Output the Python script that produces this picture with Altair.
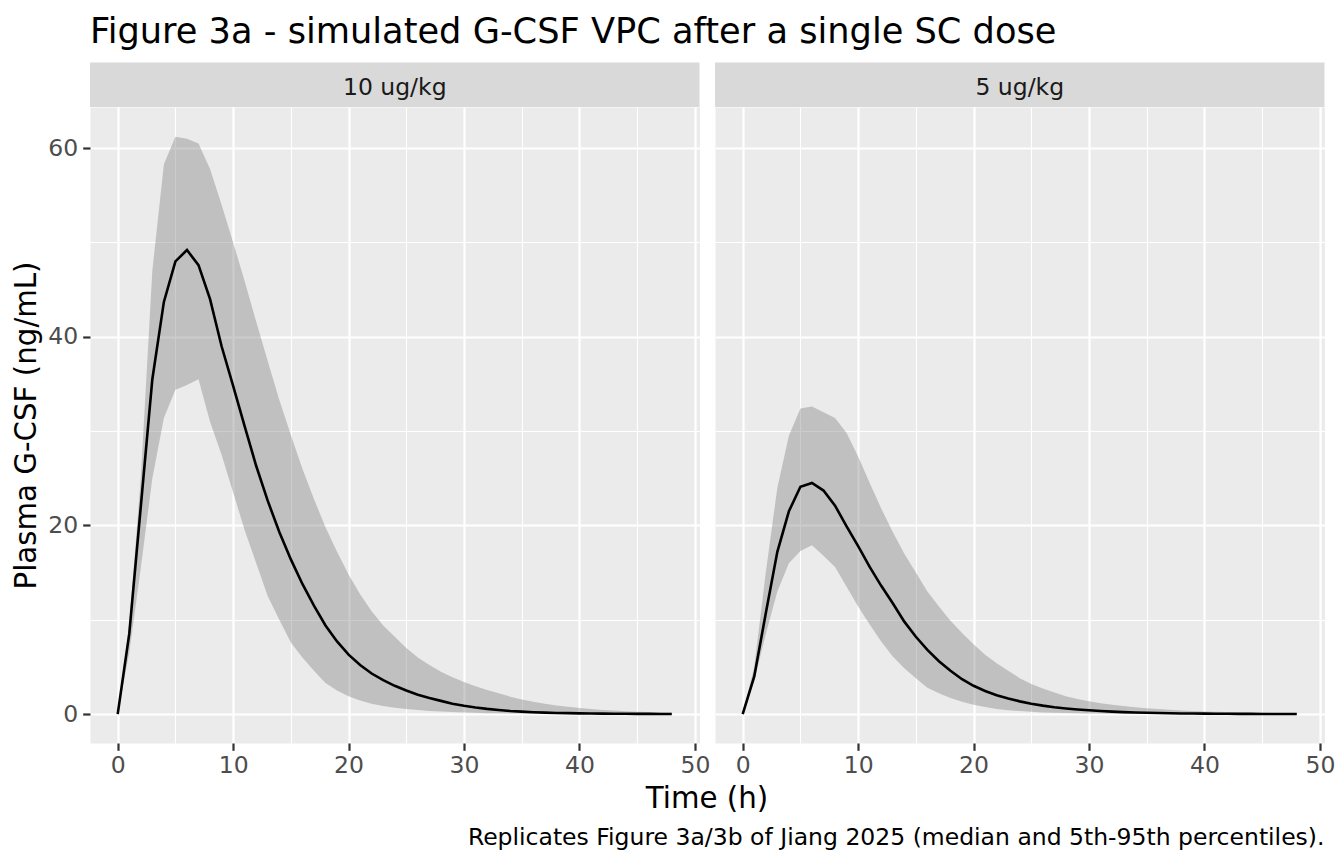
import altair as alt
import pandas as pd

# ---------------- data ----------------
TIME_H = list(range(49))
DOSES = ["10 ug/kg", "5 ug/kg"]

MED_10 = [0, 8.5, 22.0, 35.5, 43.7, 48.0, 49.2, 47.6, 44.0, 39.0,
          34.8, 30.5, 26.3, 22.6, 19.3, 16.4, 13.8, 11.5, 9.4, 7.7,
          6.3, 5.2, 4.3, 3.6, 3.0, 2.5, 2.05, 1.7, 1.4, 1.1,
          0.88, 0.7, 0.55, 0.43, 0.33, 0.26, 0.2, 0.16, 0.12, 0.1,
          0.08, 0.06, 0.05, 0.04, 0.03, 0.025, 0.02, 0.015, 0.012]
P05_10 = [0, 6.5, 15.5, 25.0, 31.4, 34.4, 34.9, 35.5, 31.0, 27.5,
          23.5, 19.5, 16.0, 12.5, 10.0, 7.6, 6.0, 4.6, 3.3, 2.5,
          1.9, 1.45, 1.1, 0.85, 0.68, 0.55, 0.43, 0.34, 0.27, 0.21,
          0.17, 0.13, 0.1, 0.08, 0.06, 0.05, 0.04, 0.03, 0.025, 0.02,
          0.016, 0.013, 0.01, 0.008, 0.007, 0.006, 0.005, 0.004, 0.003]
P95_10 = [0, 9.5, 25.0, 47.0, 58.3, 61.2, 61.0, 60.5, 57.8, 54.0,
          50.0, 45.9, 41.6, 37.4, 33.3, 29.6, 26.0, 22.8, 19.8, 17.2,
          14.8, 12.7, 10.9, 9.4, 8.2, 7.0, 6.0, 5.2, 4.5, 3.9,
          3.4, 2.95, 2.55, 2.2, 1.85, 1.55, 1.3, 1.1, 0.92, 0.77,
          0.64, 0.53, 0.44, 0.37, 0.3, 0.25, 0.21, 0.17, 0.14]

MED_5 = [0, 4.0, 10.7, 17.2, 21.5, 24.1, 24.5, 23.7, 22.1, 19.9,
         17.8, 15.6, 13.6, 11.75, 9.8, 8.2, 6.8, 5.6, 4.6, 3.7,
         3.0, 2.45, 2.0, 1.65, 1.35, 1.1, 0.9, 0.73, 0.6, 0.49,
         0.4, 0.32, 0.26, 0.21, 0.17, 0.14, 0.11, 0.09, 0.07, 0.06,
         0.05, 0.04, 0.03, 0.025, 0.02, 0.016, 0.013, 0.01, 0.008]
P05_5 = [0, 3.5, 8.5, 13.0, 16.0, 17.3, 17.9, 16.8, 15.6, 13.5,
         11.4, 9.5, 7.7, 6.1, 4.85, 3.8, 2.8, 2.2, 1.7, 1.3,
         1.0, 0.75, 0.55, 0.42, 0.32, 0.24, 0.18, 0.14, 0.11, 0.08,
         0.06, 0.05, 0.04, 0.03, 0.02, 0.015, 0.012, 0.01, 0.008, 0.006,
         0.005, 0.004, 0.003, 0.003, 0.002, 0.002, 0.002, 0.001, 0.001]
P95_5 = [0, 5.0, 15.0, 24.0, 29.5, 32.4, 32.6, 32.0, 31.4, 29.8,
         27.3, 24.5, 21.8, 19.3, 17.0, 15.0, 13.0, 11.4, 9.9, 8.6,
         7.4, 6.3, 5.4, 4.6, 3.8, 3.2, 2.7, 2.3, 1.9, 1.6,
         1.35, 1.15, 1.0, 0.85, 0.72, 0.62, 0.53, 0.45, 0.39, 0.33,
         0.28, 0.24, 0.21, 0.18, 0.15, 0.13, 0.11, 0.1, 0.08]

TITLE = "Figure 3a - simulated G-CSF VPC after a single SC dose"
X_TITLE = "Time (h)"
Y_TITLE = "Plasma G-CSF (ng/mL)"
CAPTION = "Replicates Figure 3a/3b of Jiang 2025 (median and 5th-95th percentiles)."
X_TICKS = [0, 10, 20, 30, 40, 50]
Y_TICKS = [0, 20, 40, 60]
X_MINOR = [5, 15, 25, 35, 45]
Y_MINOR = [10, 30, 50]

SERIES = {
    DOSES[0]: (MED_10, P05_10, P95_10),
    DOSES[1]: (MED_5, P05_5, P95_5),
}

# ---------------- styling ----------------
FONT = "DejaVu Sans"
W, H = 609.5, 636
GAP = 15
STRIP_H = 44.5
x_scale = alt.Scale(domain=[-2.4, 50.4], nice=False, zero=False)
y_scale = alt.Scale(domain=[-3.065, 64.365], nice=False, zero=False)


def frame(dose):
    med, lo, hi = SERIES[dose]
    return pd.DataFrame({"time": TIME_H, "median": med, "p05": lo, "p95": hi, "dose": dose})


def panel(dose, first):
    df = frame(dose)
    base = alt.Chart(df)

    x_axis = alt.Axis(values=X_TICKS, title=None, orient="bottom", grid=True,
                      gridColor="white", gridWidth=2.2, domain=False,
                      tickColor="#333333", tickSize=7.3, tickWidth=2.2,
                      labelFont=FONT, labelFontSize=23.5, labelColor="#4D4D4D",
                      labelPadding=3, labelFlush=False, labelOverlap=False)
    if first:
        y_axis = alt.Axis(values=Y_TICKS, title=Y_TITLE, orient="left", grid=True,
                          gridColor="white", gridWidth=2.2, domain=False,
                          tickColor="#333333", tickSize=7.3, tickWidth=2.2,
                          labelFont=FONT, labelFontSize=23.5, labelColor="#4D4D4D",
                          labelPadding=5, labelFlush=False, labelOverlap=False,
                          titleFont=FONT, titleFontSize=29.3, titleFontWeight="normal",
                          titleColor="black", titlePadding=6)
    else:
        y_axis = alt.Axis(values=Y_TICKS, title=None, orient="left", grid=True,
                          gridColor="white", gridWidth=2.2, domain=False,
                          ticks=False, labels=False)

    minor_x = alt.Axis(values=X_MINOR, title=None, orient="top", grid=True,
                       gridColor="white", gridWidth=1.1, domain=False,
                       ticks=False, labels=False)
    minor_y = alt.Axis(values=Y_MINOR, title=None, orient="right", grid=True,
                       gridColor="white", gridWidth=1.1, domain=False,
                       ticks=False, labels=False)

    minor = base.mark_line(opacity=0).encode(
        x=alt.X("time:Q", scale=x_scale, axis=minor_x),
        y=alt.Y("median:Q", scale=y_scale, axis=minor_y),
    )
    band = base.mark_area(color="#7F7F7F", opacity=0.4).encode(
        x=alt.X("time:Q", scale=x_scale, axis=x_axis),
        y=alt.Y("p05:Q", scale=y_scale, axis=y_axis),
        y2="p95:Q",
    )
    line = base.mark_line(color="black", strokeWidth=2.6).encode(
        x=alt.X("time:Q", scale=x_scale, axis=None),
        y=alt.Y("median:Q", scale=y_scale, axis=None),
    )

    lab = alt.Chart(pd.DataFrame({"label": [dose]}))
    strip = lab.mark_rect(color="#D9D9D9").encode(
        x=alt.value(0), x2=alt.value(W), y=alt.value(-STRIP_H), y2=alt.value(0)
    )
    strip_text = lab.mark_text(font=FONT, fontSize=23.5, color="#1A1A1A",
                               align="center", baseline="alphabetic").encode(
        x=alt.value(W / 2), y=alt.value(-12.4), text="label:N"
    )
    layers = [minor, band, line, strip, strip_text]

    if first:
        t = alt.Chart(pd.DataFrame({"label": [TITLE]})).mark_text(
            font=FONT, fontSize=35.2, color="black", align="left", baseline="alphabetic"
        ).encode(x=alt.value(0), y=alt.value(-64.3), text="label:N")
        xt = alt.Chart(pd.DataFrame({"label": [X_TITLE]})).mark_text(
            font=FONT, fontSize=29.3, color="black", align="center", baseline="alphabetic"
        ).encode(x=alt.value(W + GAP / 2), y=alt.value(700.5), text="label:N")
        layers += [t, xt]
    else:
        cap = alt.Chart(pd.DataFrame({"label": [CAPTION]})).mark_text(
            font=FONT, fontSize=23.5, color="black", align="right", baseline="alphabetic"
        ).encode(x=alt.value(W), y=alt.value(738), text="label:N")
        layers += [cap]

    return alt.layer(*layers).resolve_axis(x="independent", y="independent").properties(
        width=W, height=H
    )


chart = alt.hconcat(panel(DOSES[0], True), panel(DOSES[1], False), spacing=GAP,
                    bounds="flush").properties(
    padding={"left": 4, "top": 6, "right": 0, "bottom": 0},
    background="white",
).configure_view(fill="#EBEBEB", stroke="transparent")

chart.save("out.html", embed_options={"renderer": "svg", "actions": False})
